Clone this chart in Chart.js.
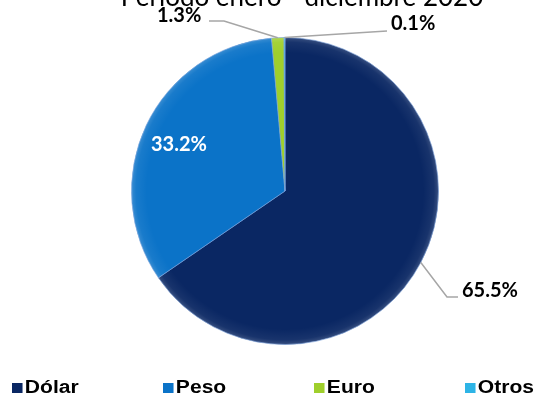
<!DOCTYPE html>
<html>
<head>
<meta charset="utf-8">
<script src="https://cdn.jsdelivr.net/npm/chart.js@4"></script>
<style>
  body { margin: 0; background: #fff; }
  #wrap { position: relative; width: 560px; height: 398px; overflow: hidden; }
  #legend { position: absolute; left: 0; top: 377px; width: 560px; height: 22px; }
  .item { position: absolute; top: 0; font: bold 18px "Liberation Sans", Arial, sans-serif; color: #000; white-space: nowrap; transform: scaleX(1.17); transform-origin: left center; }
  .box { display: inline-block; width: 9px; height: 10px; margin-right: 2px; vertical-align: 0px; }
</style>
</head>
<body>
<div id="wrap">
  <canvas id="chart" width="560" height="398"></canvas>
  <div id="legend"></div>
</div>
<script>
const categories = ["Dólar", "Peso", "Euro", "Otros"];
const shares = [65.5, 33.2, 1.3, 0.1];
const shareLabels = ["65.5%", "33.2%", "1.3%", "0.1%"];
const colors = ["#0a2763", "#0b73c8", "#9fcf2c", "#2db4e6"];
const titleText = "Período enero - diciembre 2020";

// legend columns
const legendEl = document.getElementById("legend");
categories.forEach((name, i) => {
  const d = document.createElement("div");
  d.className = "item";
  d.style.left = (12 + i * 151) + "px";
  d.innerHTML = '<span class="box" style="background:' + colors[i] + '"></span>' + name;
  legendEl.appendChild(d);
});

// soft rim so the pie looks a little bevelled
const bevel = {
  id: "bevel",
  afterDatasetsDraw(chart) {
    const a = chart.getDatasetMeta(0).data[0];
    const ctx = chart.ctx;
    ctx.save();
    ctx.beginPath();
    ctx.arc(a.x, a.y, a.outerRadius, 0, Math.PI * 2);
    ctx.clip();
    const g = ctx.createRadialGradient(a.x, a.y, a.outerRadius * 0.9, a.x, a.y, a.outerRadius);
    g.addColorStop(0, "rgba(255,255,255,0)");
    g.addColorStop(0.7, "rgba(255,255,255,0.06)");
    g.addColorStop(1, "rgba(255,255,255,0.18)");
    ctx.fillStyle = g;
    ctx.fillRect(a.x - a.outerRadius, a.y - a.outerRadius, a.outerRadius * 2, a.outerRadius * 2);
    ctx.restore();
  }
};

// title partially cut at the top, labels with leader lines
const decorations = {
  id: "decorations",
  afterDraw(chart) {
    const ctx = chart.ctx;
    const meta = chart.getDatasetMeta(0);
    ctx.save();
    ctx.fillStyle = "#000";
    ctx.font = "26px Lato, sans-serif";
    ctx.textAlign = "center";
    ctx.textBaseline = "alphabetic";
    ctx.fillText(titleText, 302, 6);

    function outer(i) {
      const a = meta.data[i];
      const mid = (a.startAngle + a.endAngle) / 2;
      return [a.x + Math.cos(mid) * a.outerRadius, a.y + Math.sin(mid) * a.outerRadius];
    }

    ctx.strokeStyle = "#a6a6a6";
    ctx.lineWidth = 1.5;
    // Dólar
    let p = outer(0);
    ctx.beginPath();
    ctx.moveTo(p[0], p[1]);
    ctx.lineTo(447, 297);
    ctx.lineTo(458, 297);
    ctx.stroke();
    // Euro
    p = outer(2);
    ctx.beginPath();
    ctx.moveTo(p[0], p[1]);
    ctx.lineTo(224, 21);
    ctx.lineTo(209, 21);
    ctx.stroke();
    // Otros
    p = outer(3);
    ctx.beginPath();
    ctx.moveTo(p[0], p[1]);
    ctx.lineTo(387, 31);
    ctx.stroke();

    ctx.font = "bold 20px Lato, sans-serif";
    ctx.textAlign = "left";
    ctx.fillStyle = "#000";
    ctx.fillText(shareLabels[0], 462, 297);
    ctx.fillText(shareLabels[2], 157, 22);
    ctx.fillText(shareLabels[3], 391, 30);
    ctx.fillStyle = "#fff";
    ctx.fillText(shareLabels[1], 151, 151);
    ctx.restore();
  }
};

new Chart(document.getElementById("chart"), {
  type: "pie",
  data: {
    labels: categories,
    datasets: [{
      data: shares,
      backgroundColor: colors,
      borderColor: "rgba(120,160,220,0.6)",
      borderWidth: 1
    }]
  },
  options: {
    responsive: false,
    animation: false,
    layout: { padding: { top: 37, bottom: 53, left: 130, right: 120 } },
    plugins: {
      legend: { display: false },
      title: { display: false },
      tooltip: { enabled: false }
    }
  },
  plugins: [bevel, decorations]
});
</script>
</body>
</html>
